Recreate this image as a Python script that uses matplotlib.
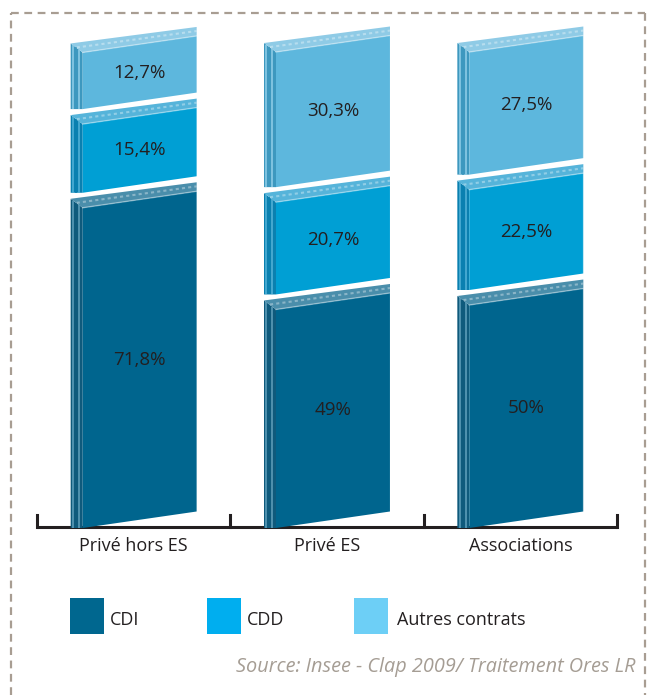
import matplotlib.pyplot as plt
from matplotlib.patches import Polygon, Rectangle
from matplotlib.lines import Line2D

plt.rcParams['font.family'] = ['Open Sans', 'DejaVu Sans']

categories = ['Privé hors ES', 'Privé ES', 'Associations']
series = ['CDI', 'CDD', 'Autres contrats']
cdi = [71.8, 49, 50]
cdd = [15.4, 20.7, 22.5]
autres = [12.7, 30.3, 27.5]
source = 'Source: Insee - Clap 2009/ Traitement Ores LR'

# front / top / side shades per series, plus legend swatch
front_colors = ['#00658e', '#009fd4', '#5db7dd']
top_colors = ['#4a8eab', '#56b4da', '#8fcbe6']
side_colors = ['#0f5a7c', '#0a80b0', '#3d98bf']
stripe_colors = ['#5b9bb8', '#4fb0d6', '#8ccbe6']
legend_colors = ['#00678f', '#00aeef', '#6dcff6']
text_color = '#231f20'

W, H = 649, 695
fig = plt.figure(figsize=(W / 100, H / 100), dpi=100)

# axes box in pixels: x 37..617, baseline at y=528, top at y=20
x0, x1, ybase, ytop = 37, 617, 528, 20
ax = fig.add_axes([x0 / W, (H - ybase) / H, (x1 - x0) / W, (ybase - ytop) / H])
ppx = (x1 - x0) / 3          # pixels per category unit
ppu = 4.46                   # pixels per percentage point
ax.set_xlim(-0.5, 2.5)
ax.set_ylim(0, (ybase - ytop) / ppu)
ax.axis('off')

gap = 15 / ppu       # space between stacked blocks
dy = 9 / ppu         # depth of top face
skew = 16.5 / ppu    # rise of right edge
side = 12 / ppx      # width of side face
half = 63 / ppx      # half of full block width

# baseline with ticks
ax.plot([-0.5, 2.5], [0.2, 0.2], color=text_color, lw=2.2, zorder=1,
        clip_on=False, solid_capstyle='butt')
for t in [-0.5, 0.5, 1.5, 2.5]:
    ax.plot([t, t], [0.2, 0.2 + 12 / ppu], color=text_color, lw=2.2,
            zorder=1, clip_on=False)

for i, cat in enumerate(categories):
    fl = i - half + side
    fr = i + half
    bottom = 0
    for j, vals in enumerate([cdi, cdd, autres]):
        v = vals[i]
        yb, yt = bottom, bottom + v
        # side face
        ax.add_patch(Polygon([(fl - side, yb), (fl, yb), (fl, yt),
                              (fl - side, yt + dy)], closed=True,
                             fc=side_colors[j], ec='none', zorder=2))
        for f, c in [(0.2, stripe_colors[j]), (0.45, side_colors[j]),
                     (0.7, stripe_colors[j])]:
            xs = fl - side + f * side
            ax.plot([xs, xs], [yb, yt + dy * (1 - f)], color=c, lw=1.2,
                    zorder=2.5, solid_capstyle='butt')
        # top face
        ax.add_patch(Polygon([(fl, yt), (fr, yt + skew), (fr, yt + skew + dy),
                              (fl - side, yt + dy)], closed=True,
                             fc=top_colors[j], ec='none', zorder=2))
        ax.plot([fl - side * 0.5, fr], [yt + dy * 0.55, yt + skew + dy * 0.55],
                color='white', alpha=0.35, lw=1.5, ls=(0, (1.5, 1.5)),
                zorder=2.6)
        # front face
        ax.add_patch(Polygon([(fl, yb), (fr, yb + skew), (fr, yt + skew),
                              (fl, yt)], closed=True,
                             fc=front_colors[j], ec='none', zorder=3))
        ax.plot([fl, fr], [yt, yt + skew], color='white', alpha=0.4, lw=1,
                zorder=3.5)
        ax.plot([fr, fr], [yb + skew, yt + skew], color='white', alpha=0.3,
                lw=1, zorder=3.5)
        label = f'{v:g}'.replace('.', ',') + '%'
        ax.text((fl + fr) / 2, (yb + yt + skew) / 2, label, ha='center',
                va='center', fontsize=13.5, color=text_color, zorder=4)
        bottom = yt + gap
    ax.text(i, -18 / ppu, cat, ha='center', va='center', fontsize=13,
            color=text_color, clip_on=False)

# legend swatches and labels, positioned in pixels
legend_pos = [(70, 110), (207, 247), (354, 397)]
for (sx, tx), name, c in zip(legend_pos, series, legend_colors):
    fig.add_artist(Rectangle((sx / W, 1 - 634 / H), 34 / W, 36 / H,
                             transform=fig.transFigure, fc=c, ec='none'))
    fig.text(tx / W, 1 - 620 / H, name, ha='left', va='center', fontsize=13,
             color=text_color)

fig.text(635 / W, 1 - 667 / H, source, ha='right', va='center', fontsize=14.3,
         style='italic', color='#a59d94')

# dashed frame (open at the bottom)
frame = dict(color='#a89d92', lw=1.6, ls=(0, (3.5, 2.5)),
             transform=fig.transFigure)
fig.add_artist(Line2D([11 / W, 11 / W], [0, 1 - 13 / H], **frame))
fig.add_artist(Line2D([11 / W, 645 / W], [1 - 13 / H, 1 - 13 / H], **frame))
fig.add_artist(Line2D([645 / W, 645 / W], [1 - 13 / H, 0], **frame))

fig.savefig('out.png', dpi=100)
